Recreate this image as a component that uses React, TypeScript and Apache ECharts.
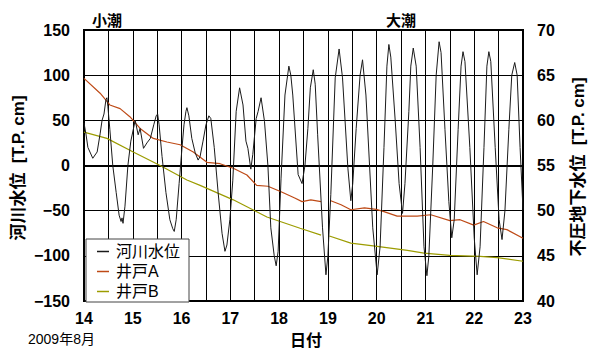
import React, { useEffect, useRef } from "react";
import * as echarts from "echarts";

// River water level (left axis, T.P. cm), x = day of August 2009
const riverDay = [
  14.0, 14.04, 14.08, 14.18, 14.27, 14.33, 14.37, 14.41, 14.45, 14.47, 14.49, 14.53, 14.59, 14.66, 14.72,
  14.76, 14.78, 14.8, 14.84, 14.9, 14.96, 15.05, 15.11, 15.15, 15.22, 15.29, 15.36, 15.43, 15.48, 15.51,
  15.54, 15.6, 15.68, 15.76, 15.82, 15.85, 15.89, 15.95, 16.01, 16.05, 16.09, 16.11, 16.15, 16.21, 16.28,
  16.34, 16.38, 16.44, 16.5, 16.56, 16.6, 16.67, 16.75, 16.83, 16.89, 16.93, 16.99, 17.05, 17.12, 17.19,
  17.26, 17.32, 17.36, 17.42, 17.46, 17.53, 17.57, 17.63, 17.7, 17.77, 17.83, 17.9, 17.94, 17.98, 18.04,
  18.12, 18.2, 18.24, 18.28, 18.39, 18.47, 18.53, 18.59, 18.64, 18.7, 18.74, 18.79, 18.89, 18.96, 19.0,
  19.06, 19.15, 19.23, 19.3, 19.41, 19.47, 19.51, 19.58, 19.66, 19.71, 19.78, 19.92, 20.01, 20.07, 20.15,
  20.21, 20.25, 20.29, 20.38, 20.46, 20.53, 20.58, 20.66, 20.7, 20.75, 20.81, 20.89, 20.97, 21.03, 21.07,
  21.15, 21.22, 21.28, 21.32, 21.4, 21.48, 21.54, 21.59, 21.67, 21.73, 21.77, 21.81, 21.91, 22.0, 22.06,
  22.12, 22.2, 22.26, 22.3, 22.34, 22.43, 22.51, 22.57, 22.63, 22.71, 22.77, 22.83, 22.88, 22.94, 23.0,
];
const riverLevel = [
  47, 35, 20, 8, 15, 35, 50, 57, 73, 75, 65, 40, 0, -30, -55,
  -62, -58, -64, -45, 0, 27, 50, 34, 41, 19, 25, 30, 45, 55, 57,
  45, 10, -30, -60, -70, -73, -60, -20, 20, 45, 60, 64, 55, 30, 14,
  6, 10, 27, 45, 55, 52, 20, -30, -75, -95, -88, -60, -17, 60, 86,
  67, 27, 19, -4, 12, 52, 60, 75, 49, 0, -69, -100, -111, -95, -14,
  78, 110, 100, 78, -10, -20, 0, 41, 86, 106, 90, 34, -69, -121, -100,
  -32, 97, 129, 97, -3, -39, -20, 41, 100, 117, 78, -69, -121, -90, 20,
  110, 134, 120, 50, -20, -53, -20, 60, 110, 130, 110, 20, -90, -122, -100,
  0, 100, 137, 125, 40, -40, -80, -60, 40, 110, 126, 115, 20, -80, -121,
  -90, 20, 110, 126, 115, 20, -60, -82, -50, 40, 100, 114, 100, 20, -49,
];

// Well A (right axis, T.P. cm); null = gap in the record
const wellADay = [
  14.0, 14.33, 14.53, 14.74, 14.94, 15.15, 15.42, 15.7, 15.97, 16.24, 16.52, 16.79, 17.06, 17.34, 17.54,
  17.77, 18.04, 18.32, 18.47, 18.65, 18.86, 18.96, 19.06, 19.27, 19.47, 19.75, 19.99, 20.15, 20.42, 20.83,
  21.11, 21.5, 21.71, 21.99, 22.19, 22.47, 22.67, 23.0,
];
const wellALevel = [
  64.65, 63.0, 61.7, 61.3, 60.4, 59.1, 58.0, 57.6, 57.3, 56.5, 55.35, 55.2, 54.7, 53.95, 52.8,
  52.7, 52.1, 51.4, 51.0, 51.2, 51.0, null, 51.1, 50.65, 50.1, 50.3, 50.15, 49.9, 49.4, 49.4,
  49.55, 48.9, 49.0, 48.4, 48.8, 48.1, 47.9, 46.95,
];

// Well B (right axis, T.P. cm)
const wellBDay = [
  14.0, 14.47, 15.01, 15.56, 16.11, 16.38, 17.06, 17.75, 18.43, 18.86, 18.95, 19.03, 19.47, 20.01, 20.63,
  20.97, 21.5, 22.12, 22.47, 23.0,
];
const wellBLevel = [
  58.7, 58.0, 56.5, 55.0, 53.4, 52.8, 51.2, 49.3, 48.05, 47.3, null, 47.2, 46.4, 46.05, 45.6,
  45.3, 45.05, 44.95, 44.8, 44.4,
];

const seriesNames = ["河川水位", "井戸A", "井戸B"];
const seriesColors = ["#1a1a1a", "#be4a16", "#9c9c00"];

const FONT = "'Liberation Sans', 'Noto Sans CJK JP', sans-serif";

const toPairs = (xs: number[], ys: (number | null)[]) =>
  xs.map((x, i) => [x, ys[i] === null ? "-" : ys[i]]);

export default function App() {
  const ref = useRef<HTMLDivElement>(null);
  useEffect(() => {
    document.body.style.margin = "0";
    if (!ref.current) return;
    const chart = echarts.init(ref.current, undefined, { renderer: "svg" });
    const axisText = { color: "#000", fontSize: 16, fontWeight: "bold" as const, fontFamily: FONT };
    chart.setOption({
      animation: false,
      backgroundColor: "#fff",
      grid: {
        left: 84,
        right: 73,
        top: 30,
        bottom: 51,
        show: true,
        borderColor: "#000",
        borderWidth: 2,
        backgroundColor: "transparent",
      },
      legend: {
        data: seriesNames,
        orient: "vertical",
        left: 86,
        top: 239,
        icon: "rect",
        itemWidth: 12,
        itemHeight: 1.5,
        itemGap: 3,
        padding: [4, 9, 2, 11],
        backgroundColor: "#fff",
        borderColor: "#444",
        borderWidth: 1,
        borderRadius: 0,
        textStyle: { color: "#000", fontSize: 16, fontFamily: FONT, lineHeight: 17, padding: [0, 0, 0, 2] },
      },
      xAxis: {
        type: "value",
        min: 14,
        max: 23,
        interval: 0.5,
        axisLine: { show: true, lineStyle: { color: "#000", width: 2 } },
        axisTick: { show: false },
        axisLabel: {
          ...axisText,
          margin: 9,
          formatter: (v: number) => (Number.isInteger(v) ? String(v) : ""),
        },
        splitLine: { show: true, lineStyle: { color: "#000", width: 1 } },
      },
      yAxis: [
        {
          type: "value",
          min: -150,
          max: 150,
          interval: 50,
          axisLine: { show: true, lineStyle: { color: "#000", width: 2 } },
          axisTick: { show: false },
          axisLabel: {
            ...axisText,
            margin: 14,
            formatter: (v: number) => String(v).replace("-", "−"),
          },
          splitLine: { show: true, lineStyle: { color: "#000", width: 1 } },
        },
        {
          type: "value",
          min: 40,
          max: 70,
          interval: 5,
          position: "right",
          axisLine: { show: true, lineStyle: { color: "#000", width: 2 } },
          axisTick: { show: false },
          axisLabel: { ...axisText, margin: 14 },
          splitLine: { show: false },
        },
      ],
      graphic: [
        {
          type: "text",
          x: 18,
          y: 168,
          rotation: Math.PI / 2,
          style: {
            text: "河川水位  [T.P. cm]",
            fill: "#000",
            font: `bold 17px ${FONT}`,
            align: "center",
            verticalAlign: "middle",
          },
        },
        {
          type: "text",
          x: 578,
          y: 167,
          rotation: Math.PI / 2,
          style: {
            text: "不圧地下水位  [T.P. cm]",
            fill: "#000",
            font: `bold 17px ${FONT}`,
            align: "center",
            verticalAlign: "middle",
          },
        },
        {
          type: "text",
          x: 107,
          y: 20,
          style: { text: "小潮", fill: "#000", font: `bold 15px ${FONT}`, align: "center", verticalAlign: "middle" },
        },
        {
          type: "text",
          x: 401,
          y: 20,
          style: { text: "大潮", fill: "#000", font: `bold 15px ${FONT}`, align: "center", verticalAlign: "middle" },
        },
        {
          type: "text",
          x: 306,
          y: 340,
          style: { text: "日付", fill: "#000", font: `bold 16px ${FONT}`, align: "center", verticalAlign: "middle" },
        },
        {
          type: "text",
          x: 28,
          y: 339,
          style: { text: "2009年8月", fill: "#000", font: `14px ${FONT}`, align: "left", verticalAlign: "middle" },
        },
      ],
      series: [
        {
          name: seriesNames[0],
          type: "line",
          yAxisIndex: 0,
          symbol: "none",
          data: toPairs(riverDay, riverLevel),
          lineStyle: { color: seriesColors[0], width: 1 },
          itemStyle: { color: seriesColors[0] },
          z: 3,
        },
        {
          name: seriesNames[1],
          type: "line",
          yAxisIndex: 1,
          symbol: "none",
          connectNulls: false,
          data: toPairs(wellADay, wellALevel),
          lineStyle: { color: seriesColors[1], width: 1.2 },
          itemStyle: { color: seriesColors[1] },
          z: 2,
        },
        {
          name: seriesNames[2],
          type: "line",
          yAxisIndex: 1,
          symbol: "none",
          connectNulls: false,
          data: toPairs(wellBDay, wellBLevel),
          lineStyle: { color: seriesColors[2], width: 1.2 },
          itemStyle: { color: seriesColors[2] },
          z: 2,
        },
      ],
    });
    return () => chart.dispose();
  }, []);
  return <div ref={ref} style={{ position: "absolute", left: 0, top: 0, width: 596, height: 352 }} />;
}
